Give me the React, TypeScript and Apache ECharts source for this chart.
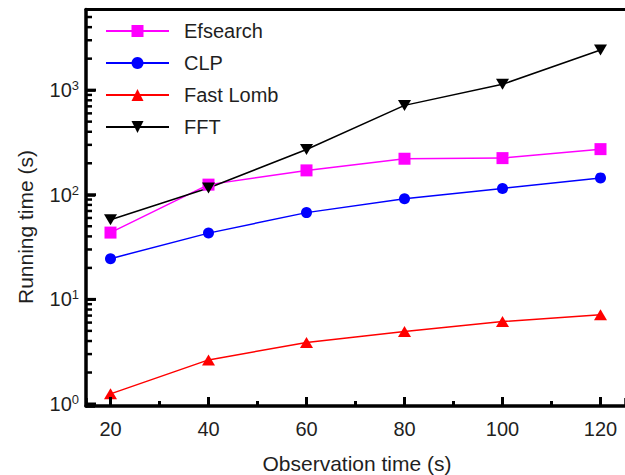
import React, { useEffect, useRef } from "react";
import * as echarts from "echarts";

const xValues = [20, 40, 60, 80, 100, 120];
const efsearch = [43.5, 125, 171, 221, 224, 273];
const clp = [24.5, 43, 67.5, 91.4, 115, 145];
const fastLomb = [1.25, 2.64, 3.87, 4.93, 6.14, 7.12];
const fft = [57.8, 116, 271, 715, 1137, 2421];

const xMajorTicks = [20, 40, 60, 80, 100, 120];
const xMinorTicks = [30, 50, 70, 90, 110];
const yMajorTicks = [1, 10, 100, 1000];
const yMinorTicks = [
  2, 3, 4, 5, 6, 7, 8, 9,
  20, 30, 40, 50, 60, 70, 80, 90,
  200, 300, 400, 500, 600, 700, 800, 900,
  2000, 3000, 4000, 5000,
];

const FONT = "'Liberation Sans', Arial, sans-serif";
const TXT = "#1f1f1f";

export default function App() {
  const ref = useRef<HTMLDivElement>(null);
  useEffect(() => {
    if (!ref.current) return;
    const chart = echarts.init(ref.current, null, { renderer: "svg" });
    const pairs = (ys: number[]) => xValues.map((x, i) => [x, ys[i]]);
    const xMin = 15;
    const xMax = 125;
    const yMin = 0.957;
    const yMax = 5900;
    const hidden = () => ({ show: false });
    const titles: any[] = [
      {
        type: "text",
        x: 357,
        y: 463,
        style: {
          text: "Observation time (s)",
          fontSize: 21,
          fontFamily: FONT,
          fill: TXT,
          textAlign: "center",
          textVerticalAlign: "middle",
        },
      },
      {
        type: "text",
        x: 25,
        y: 227,
        rotation: Math.PI / 2,
        style: {
          text: "Running time (s)",
          fontSize: 21,
          fontFamily: FONT,
          fill: TXT,
          textAlign: "center",
          textVerticalAlign: "middle",
        },
      },
    ];
    chart.setOption({
      animation: false,
      backgroundColor: "#fff",
      textStyle: { fontFamily: FONT },
      grid: {
        left: 86,
        right: -3,
        top: 9.5,
        bottom: 69,
        show: false,
        containLabel: false,
      },
      legend: {
        orient: "vertical",
        left: 105,
        top: 21,
        padding: 0,
        itemWidth: 63,
        itemHeight: 15,
        itemGap: 12,
        textStyle: { fontSize: 20, color: TXT, fontFamily: FONT, padding: [0, 0, 0, 10] },
        data: ["Efsearch", "CLP", "Fast Lomb", "FFT"],
      },
      xAxis: [
        {
          type: "value",
          min: xMin,
          max: xMax,
          axisLine: { show: true, onZero: false, lineStyle: { color: "#000", width: 3.5 } },
          axisTick: { show: true, inside: true, length: 8, lineStyle: { color: "#000", width: 2.5 } },
          minorTick: { show: true, splitNumber: 2, length: 4, lineStyle: { color: "#000", width: 2.5 } },
          axisLabel: {
            show: true,
            customValues: xMajorTicks,
            fontSize: 20,
            color: TXT,
            fontFamily: FONT,
            margin: 13,
          },
          splitLine: hidden(),
          minorSplitLine: hidden(),
        },
        {
          type: "value",
          position: "top",
          min: xMin,
          max: xMax,
          axisLine: { show: true, onZero: false, lineStyle: { color: "#000", width: 3 } },
          axisTick: hidden(),
          axisLabel: hidden(),
          splitLine: hidden(),
        },
      ],
      yAxis: {
        type: "log",
        logBase: 10,
        min: yMin,
        max: yMax,
        axisLine: { show: true, onZero: false, lineStyle: { color: "#000", width: 3.5 } },
        axisTick: { show: true, inside: true, length: 9, lineStyle: { color: "#000", width: 2.5 } },
        axisLabel: {
          show: true,
          customValues: yMajorTicks,
          margin: 7,
          formatter: (v: number) => `{b|10}{s|${Math.round(Math.log10(v))}}`,
          rich: {
            b: { fontSize: 20, lineHeight: 22, color: TXT, fontFamily: FONT },
            s: { fontSize: 13, lineHeight: 13, color: TXT, fontFamily: FONT, verticalAlign: "top" },
          },
        },
        splitLine: hidden(),
      },
      graphic: titles,
      series: [
        {
          name: "Efsearch",
          type: "line",
          data: pairs(efsearch),
          symbol: "rect",
          symbolSize: 12,
          itemStyle: { color: "#ff00ff" },
          lineStyle: { color: "#ff00ff", width: 1.5 },
        },
        {
          name: "CLP",
          type: "line",
          data: pairs(clp),
          symbol: "circle",
          symbolSize: 11,
          itemStyle: { color: "#0000ff" },
          lineStyle: { color: "#0000ff", width: 1.5 },
        },
        {
          name: "Fast Lomb",
          type: "line",
          data: pairs(fastLomb),
          symbol: "triangle",
          symbolSize: [13, 11],
          itemStyle: { color: "#ff0000" },
          lineStyle: { color: "#ff0000", width: 1.5 },
        },
        {
          name: "FFT",
          type: "line",
          data: pairs(fft),
          symbol: "triangle",
          symbolRotate: 180,
          symbolSize: [13, 11],
          itemStyle: { color: "#000000" },
          lineStyle: { color: "#000000", width: 1.5 },
        },
      ],
    });

    // Tick marks as small filled rects, positioned through the grid's own scales
    const toPx = (x: number, y: number): number[] => {
      const p = chart.convertToPixel({ gridIndex: 0 }, [x, y]) as any;
      return Array.isArray(p) ? p : [NaN, NaN];
    };
    const [x0, y0] = toPx(xMin, yMin);
    const ticks: any[] = [];
    const addRect = (x: number, y: number, w: number, h: number) => {
      if (![x, y, w, h].every((n) => Number.isFinite(n))) return;
      ticks.push({
        type: "rect",
        silent: true,
        z: 50,
        shape: { x, y, width: w, height: h },
        style: { fill: "#000", stroke: null },
      });
    };
    xMajorTicks.forEach((v) => {
      const x = toPx(v, yMin)[0];
      addRect(x - 1.5, y0 - 9, 3, 9);
    });
    xMinorTicks.forEach((v) => {
      const x = toPx(v, yMin)[0];
      addRect(x - 1.5, y0 - 5, 3, 5);
    });
    yMajorTicks.forEach((v) => {
      const y = toPx(xMin, v)[1];
      addRect(x0, y - 1.5, 10, 3);
    });
    yMinorTicks.forEach((v) => {
      const y = toPx(xMin, v)[1];
      addRect(x0, y - 1.25, 6, 2.5);
    });
    chart.setOption({ graphic: [...titles, ...ticks] });

    return () => chart.dispose();
  }, []);
  return (
    <div
      ref={ref}
      style={{ position: "absolute", left: 0, top: 0, width: 625, height: 475 }}
    />
  );
}
